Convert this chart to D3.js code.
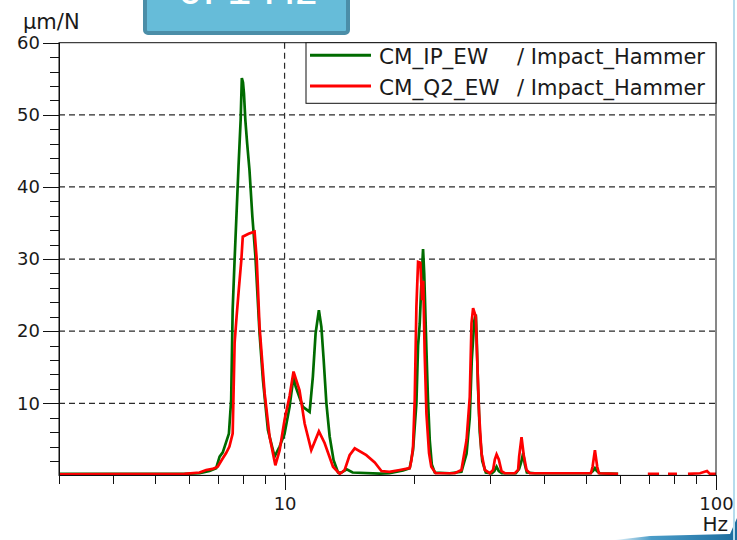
<!DOCTYPE html>
<html>
<head>
<meta charset="utf-8">
<script src="https://cdn.jsdelivr.net/npm/d3@7"></script>
<style>
  body { margin: 0; background: #fff; }
  svg { display: block; }
  text { font-family: "DejaVu Sans", Verdana, sans-serif; fill: #1a1a1a; }
  .grid line { stroke: #2a2a2a; stroke-width: 1.2; stroke-dasharray: 6,4; }
  .axis path, .axis line { stroke: #111; stroke-width: 1; shape-rendering: crispEdges; }
  .axis text { font-size: 18px; }
</style>
</head>
<body>
<div id="chart"></div>
<script>
// frequency response, log frequency axis
var xDomain = [3, 100],
yDomain = [0, 60];

var xMajor = [10, 100],
xMinor = [3, 4, 5, 6, 7, 8, 9, 20, 30, 40, 50, 60, 70, 80, 90],
yMajor = [10, 20, 30, 40, 50, 60],
yMinor = [2, 4, 6, 8, 12, 14, 16, 18, 22, 24, 26, 28, 32, 34, 36, 38, 42, 44, 46, 48, 52, 54, 56, 58],
gridY = [10, 20, 30, 40, 50],
gridX = [10];

var seriesNames = ["CM_IP_EW", "CM_Q2_EW"],
seriesRef = "/ Impact_Hammer",
seriesColors = ["#006b00", "#ff0000"];

// CM_IP_EW
var greenHz = [3.0, 4.86, 5.86, 6.35, 6.70, 6.94, 7.07, 7.19, 7.43, 7.52, 7.58, 7.66, 7.82, 7.91, 7.96, 8.01, 8.05, 8.11, 8.19, 8.29, 8.42, 8.56, 8.75, 8.91, 9.15, 9.48, 9.74, 10.0, 10.27, 10.49, 10.61, 10.83, 11.03, 11.43, 11.63, 11.80, 12.01, 12.17, 12.32, 12.50, 12.72, 12.99, 13.30, 13.56, 13.93, 14.38, 16.61, 17.5, 18.82, 19.50, 19.85, 20.21, 20.39, 20.57, 20.73, 20.94, 21.07, 21.32, 21.50, 21.70, 21.94, 22.29, 24.14, 25.70, 26.41, 26.87, 27.16, 27.53, 27.75, 27.86, 28.09, 28.34, 28.72, 29.27, 30.22, 30.63, 31.0, 31.37, 31.88, 34.36, 34.97, 35.42, 35.73, 36.05, 36.44, 38.02, 51.03, 51.85, 52.4, 52.96, 53.82, 59.3, 62],
greenVal = [0.2, 0.2, 0.2, 0.3, 0.6, 1.0, 2.6, 3.2, 5.8, 10.5, 23, 30, 42.8, 49.3, 55.1, 54.5, 53, 49.3, 46, 42.4, 35.9, 30.3, 19.7, 13.2, 6.3, 2.6, 4, 5.8, 9.5, 13.7, 12.3, 10.8, 9.5, 8.8, 13.7, 19.7, 22.9, 20.6, 16, 10, 5.4, 2.1, 0.4, 0.4, 0.85, 0.4, 0.25, 0.3, 0.7, 1.0, 3.5, 10, 18, 21, 26, 31.4, 28, 17.4, 10.5, 4.9, 1.5, 0.4, 0.3, 0.5, 3, 8, 16, 21.5, 22.3, 19.7, 12, 6, 2, 0.4, 0.3, 0.6, 1.2, 0.6, 0.3, 0.3, 0.9, 2.0, 3.1, 1.5, 0.4, 0.3, 0.3, 0.6, 1.0, 0.6, 0.3, 0.2, null];

// CM_Q2_EW
var redHz = [3.0, 5.86, 6.35, 6.58, 6.81, 7.0, 7.18, 7.32, 7.45, 7.58, 7.66, 7.74, 7.83, 7.94, 8.0, 8.25, 8.52, 8.62, 8.75, 8.99, 9.23, 9.52, 9.74, 10.0, 10.27, 10.49, 10.83, 11.13, 11.53, 12.01, 12.38, 12.95, 13.42, 13.78, 14.15, 14.54, 15.47, 16.18, 16.77, 17.5, 18.49, 19.5, 19.68, 19.85, 20.03, 20.21, 20.39, 20.64, 20.83, 20.96, 21.12, 21.32, 21.62, 21.88, 22.4, 24.8, 25.7, 26.41, 26.87, 27.12, 27.35, 27.75, 27.94, 28.24, 28.6, 29.11, 29.9, 30.43, 30.71, 31.0, 31.37, 31.83, 32.39, 34.17, 34.78, 34.97, 35.42, 35.84, 36.38, 37.02, 51.29, 51.75, 52.4, 53.05, 53.52, 59.3, 62, 69.5, 73.8, 75, 77.4, 81.2, 83, 86.1, 91.8, 95.3, 96.8, 100],
redVal = [0.15, 0.2, 0.4, 0.75, 0.9, 1.2, 2.3, 3.1, 4, 5.8, 18.4, 22, 25.7, 29.9, 33.1, 33.5, 33.8, 29.9, 20.6, 11.4, 5.4, 1.4, 3.5, 7.7, 11, 14.4, 11.8, 7.2, 3.5, 6.1, 4.5, 1.2, 0.2, 0.75, 2.8, 3.75, 2.8, 1.8, 0.6, 0.5, 0.75, 1.0, 2.1, 4, 10.5, 23.4, 29.6, 29.5, 24.3, 27, 17, 8.6, 3.1, 1.2, 0.3, 0.3, 0.75, 4.9, 10.9, 21.1, 23.2, 22, 16.5, 8.6, 3.1, 0.75, 0.3, 0.75, 2.2, 2.9, 2.2, 0.6, 0.3, 0.3, 0.75, 2.6, 5.3, 2.8, 0.75, 0.3, 0.3, 1.2, 3.5, 1.2, 0.3, 0.2, null, 0.2, 0.2, null, 0.2, 0.2, null, 0.2, 0.3, 0.6, 0.2, 0.2];

var width = 737,
height = 540,
margin = {left: 59, right: 21, top: 42.7, bottom: 64.6},
plotW = width - margin.left - margin.right,
plotH = height - margin.top - margin.bottom;

var svg = d3.select("#chart").append("svg")
.attr("width", width)
.attr("height", height);

var defs = svg.append("defs");

var x = d3.scaleLog().domain(xDomain).range([margin.left, margin.left + plotW]),
y = d3.scaleLinear().domain(yDomain).range([margin.top + plotH, margin.top]);

// slide decorations
var grad = defs.append("linearGradient").attr("id", "swoosh").attr("x1", "0").attr("x2", "1");
grad.append("stop").attr("offset", "0").attr("stop-color", "#e8f4fa");
grad.append("stop").attr("offset", "0.3").attr("stop-color", "#4a9cc8");
grad.append("stop").attr("offset", "1").attr("stop-color", "#1c6c9e");

svg.append("path")
.attr("d", "M615,540 L650,536 L730,534 L737,518 L737,540 Z")
.attr("fill", "url(#swoosh)");

svg.append("line")
.attr("x1", 734).attr("x2", 734).attr("y1", 0).attr("y2", 540)
.attr("stroke", "#b5dced").attr("stroke-width", 2);

var title = svg.append("g").attr("class", "title-box");
title.append("rect")
.attr("x", 145).attr("y", -20)
.attr("width", 203).attr("height", 53)
.attr("rx", 3)
.attr("fill", "#66bcd9")
.attr("stroke", "#4b8ea8")
.attr("stroke-width", 4);
title.append("text")
.attr("x", 178).attr("y", 4)
.style("font-family", "'Liberation Sans', Arial, sans-serif")
.style("font-size", "44px")
.style("fill", "#fff")
.text("0. 1 Hz");

// gridlines
var grid = svg.append("g").attr("class", "grid");
grid.selectAll(".gy")
.data(gridY)
.enter()
.append("line")
.attr("class", "gy")
.attr("x1", margin.left).attr("x2", margin.left + plotW)
.attr("y1", function(d){ return y(d); })
.attr("y2", function(d){ return y(d); });
grid.selectAll(".gx")
.data(gridX)
.enter()
.append("line")
.attr("class", "gx")
.attr("y1", margin.top).attr("y2", margin.top + plotH)
.attr("x1", function(d){ return x(d); })
.attr("x2", function(d){ return x(d); });

// curves
defs.append("clipPath")
.attr("id", "plot-clip")
.append("rect")
.attr("x", margin.left).attr("y", margin.top)
.attr("width", plotW).attr("height", plotH);

var line = d3.line()
.defined(function(d){ return d[1] !== null; })
.x(function(d){ return x(d[0]); })
.y(function(d){ return y(d[1]); });

var curves = svg.append("g").attr("clip-path", "url(#plot-clip)");
var series = [d3.zip(greenHz, greenVal), d3.zip(redHz, redVal)];

curves.selectAll(".curve")
.data(series)
.enter()
.append("path")
.attr("class", "curve")
.attr("d", line)
.attr("fill", "none")
.attr("stroke", function(d, i){ return seriesColors[i]; })
.attr("stroke-width", 2.7)
.attr("stroke-linejoin", "miter");

// axes: minor ticks without labels, major ticks with labels
var xAxisMinor = d3.axisBottom(x).tickValues(xMinor).tickSize(9).tickSizeOuter(0).tickFormat("");
var xAxisMajor = d3.axisBottom(x).tickValues(xMajor).tickSize(15).tickSizeOuter(0).tickPadding(7).tickFormat(function(d){ return String(d); });
var yAxisMinor = d3.axisLeft(y).tickValues(yMinor).tickSize(9).tickSizeOuter(0).tickFormat("");
var yAxisMajor = d3.axisLeft(y).tickValues(yMajor).tickSize(16).tickSizeOuter(0).tickPadding(3).tickFormat(function(d){ return String(d); });

svg.append("g").attr("class", "axis").attr("transform", "translate(0," + (margin.top + plotH) + ")").call(xAxisMinor);
svg.append("g").attr("class", "axis").attr("transform", "translate(0," + (margin.top + plotH) + ")").call(xAxisMajor);
svg.append("g").attr("class", "axis").attr("transform", "translate(" + margin.left + ",0)").call(yAxisMinor);
svg.append("g").attr("class", "axis").attr("transform", "translate(" + margin.left + ",0)").call(yAxisMajor);

// frame
svg.append("rect")
.attr("x", margin.left).attr("y", margin.top)
.attr("width", plotW).attr("height", plotH)
.attr("fill", "none")
.attr("stroke", "#111")
.attr("stroke-width", 1);

// units
svg.append("text")
.attr("x", 23).attr("y", 29)
.style("font-size", "21px")
.text("µm/N");

svg.append("text")
.attr("x", 728).attr("y", 531)
.attr("text-anchor", "end")
.style("font-size", "20px")
.text("Hz");

// legend
var legend = svg.append("g").attr("class", "legend");
legend.append("rect")
.attr("x", 306).attr("y", margin.top)
.attr("width", margin.left + plotW - 306).attr("height", 60.6)
.attr("fill", "#fff")
.attr("stroke", "#111")
.attr("stroke-width", 1);

var items = legend.selectAll(".item")
.data(seriesNames)
.enter()
.append("g")
.attr("class", "item")
.attr("transform", function(d, i){ return "translate(0," + (55.3 + i * 30.7) + ")"; });

items.append("line")
.attr("x1", 310).attr("x2", 371)
.attr("stroke", function(d, i){ return seriesColors[i]; })
.attr("stroke-width", 3);

items.append("text")
.attr("x", 379).attr("y", 8.5)
.style("font-size", "21.5px")
.text(function(d){ return d; });

items.append("text")
.attr("x", 517).attr("y", 8.5)
.style("font-size", "21px")
.text(seriesRef);
</script>
</body>
</html>
